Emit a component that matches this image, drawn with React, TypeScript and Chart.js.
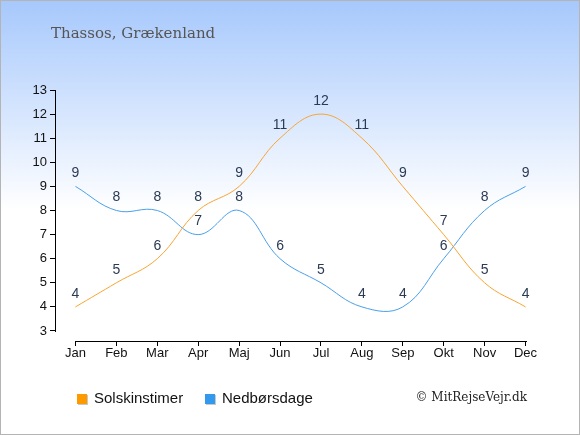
import React, { useEffect, useRef } from "react";
import { Chart, registerables } from "chart.js";

Chart.register(...registerables);

const months = ["Jan", "Feb", "Mar", "Apr", "Maj", "Jun", "Jul", "Aug", "Sep", "Okt", "Nov", "Dec"];
const sunHours = [4, 5, 6, 8, 9, 11, 12, 11, 9, 7, 5, 4];
const rainDays = [9, 8, 8, 7, 8, 6, 5, 4, 4, 6, 8, 9];
const yTicks = [3, 4, 5, 6, 7, 8, 9, 10, 11, 12, 13];
const titleText = "Thassos, Grækenland";
const seriesNames = ["Solskinstimer", "Nedbørsdage"];
const copyright = "© MitRejseVejr.dk";

const W = 580;
const H = 435;

const decorPlugin = {
  id: "decor",
  beforeDraw(chart: any) {
    const ctx = chart.ctx;
    ctx.save();
    const g = ctx.createLinearGradient(0, 0, 0, 210);
    g.addColorStop(0, "#a6c8fc");
    g.addColorStop(1, "#ffffff");
    ctx.fillStyle = "#ffffff";
    ctx.fillRect(0, 0, W, H);
    ctx.fillStyle = g;
    ctx.fillRect(0, 0, W, 210);
    ctx.restore();
  },
  afterDraw(chart: any) {
    const ctx = chart.ctx;
    const xs = chart.scales.x;
    const ys = chart.scales.y;
    ctx.save();
    // axis lines
    ctx.strokeStyle = "#000000";
    ctx.lineWidth = 1;
    const ax = Math.round(chart.chartArea.left) + 0.5;
    ctx.beginPath();
    ctx.moveTo(ax, Math.round(ys.getPixelForValue(13)));
    ctx.lineTo(ax, Math.round(ys.getPixelForValue(3)) + 1);
    ctx.stroke();
    const by = Math.round(chart.chartArea.bottom) + 0.5;
    ctx.beginPath();
    ctx.moveTo(Math.round(xs.getPixelForValue(0)), by);
    ctx.lineTo(Math.round(xs.getPixelForValue(months.length - 1)) + 1, by);
    ctx.stroke();

    // data labels
    ctx.fillStyle = "#2b3a55";
    ctx.font = "14px 'Liberation Sans', Arial, sans-serif";
    ctx.textAlign = "center";
    ctx.textBaseline = "middle";
    chart.data.datasets.forEach((ds: any, di: number) => {
      const meta = chart.getDatasetMeta(di);
      meta.data.forEach((pt: any, i: number) => {
        ctx.fillText(String(ds.data[i]), pt.x, pt.y - 13);
      });
    });

    // title
    ctx.fillStyle = "#555555";
    ctx.font = "15px 'DejaVu Serif', serif";
    ctx.textAlign = "left";
    ctx.textBaseline = "alphabetic";
    ctx.fillText(titleText, 51, 38);

    // legend
    const items = [
      { x: 77, color: "#ff9900", label: seriesNames[0] },
      { x: 205, color: "#3399ee", label: seriesNames[1] },
    ];
    ctx.font = "15px 'Liberation Sans', Arial, sans-serif";
    ctx.textBaseline = "middle";
    items.forEach((it) => {
      ctx.fillStyle = "#c8c8c8";
      ctx.fillRect(it.x + 1, 395, 10, 10);
      ctx.fillStyle = it.color;
      ctx.fillRect(it.x, 394, 10, 10);
      ctx.fillStyle = "#111111";
      ctx.fillText(it.label, it.x + 17, 399);
    });

    // copyright
    ctx.fillStyle = "#222222";
    ctx.font = "12px 'DejaVu Serif', serif";
    ctx.textAlign = "right";
    ctx.fillText(copyright, 527, 398);

    // border
    ctx.strokeStyle = "#b4b4b4";
    ctx.strokeRect(0.5, 0.5, W - 1, H - 1);
    ctx.restore();
  },
};

export default function App() {
  const ref = useRef<HTMLCanvasElement | null>(null);
  useEffect(() => {
    document.body.style.margin = "0";
    const canvas = ref.current;
    if (!canvas) return;
    const chart = new Chart(canvas, {
      type: "line",
      data: {
        labels: months,
        datasets: [
          {
            label: seriesNames[0],
            data: sunHours,
            borderColor: "#f9a532",
            borderWidth: 1,
            pointRadius: 0,
            tension: 0.4,
            fill: false,
          },
          {
            label: seriesNames[1],
            data: rainDays,
            borderColor: "#4aa0ea",
            borderWidth: 1,
            pointRadius: 0,
            tension: 0.4,
            fill: false,
          },
        ],
      },
      options: {
        animation: false,
        responsive: false,
        devicePixelRatio: 1,
        layout: { padding: { top: 90, right: 34, left: 0, bottom: 0 } },
        plugins: {
          legend: { display: false },
          title: { display: false },
          tooltip: { enabled: false },
        },
        scales: {
          x: {
            type: "category",
            offset: true,
            border: { display: false },
            grid: {
              display: true,
              drawOnChartArea: false,
              drawTicks: true,
              tickLength: 5,
              color: "#000000",
              offset: false,
            },
            ticks: {
              color: "#111111",
              font: { family: "'Liberation Sans', Arial, sans-serif", size: 13 },
              padding: 0,
              maxRotation: 0,
              autoSkip: false,
            },
            afterFit(scale: any) {
              scale.height = 94;
            },
          },
          y: {
            type: "linear",
            min: 2.585,
            max: 13,
            border: { display: false },
            grid: {
              display: true,
              drawOnChartArea: false,
              drawTicks: true,
              tickLength: 5,
              color: "#000000",
            },
            afterBuildTicks(scale: any) {
              scale.ticks = yTicks.map((v) => ({ value: v }));
            },
            ticks: {
              color: "#111111",
              font: { family: "'Liberation Sans', Arial, sans-serif", size: 13 },
              padding: 3,
            },
            afterFit(scale: any) {
              scale.width = 55;
            },
          },
        },
      },
      plugins: [decorPlugin],
    });
    return () => chart.destroy();
  }, []);
  return <canvas ref={ref} width={W} height={H} style={{ display: "block", width: W, height: H }} />;
}
